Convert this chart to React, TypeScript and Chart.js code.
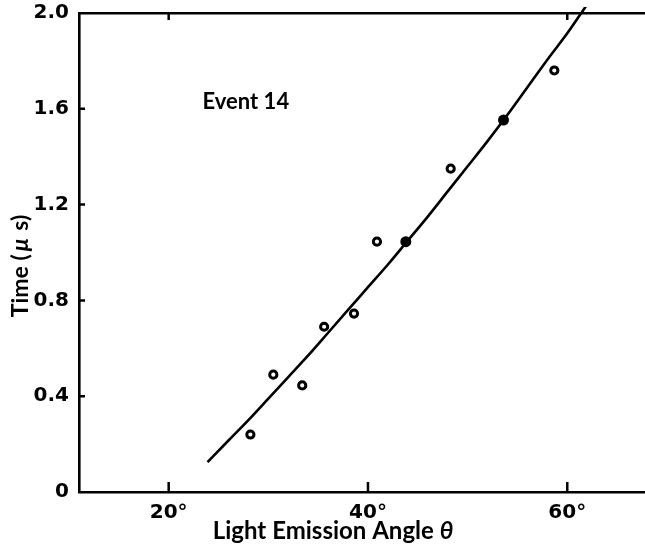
import React, { useEffect, useRef } from "react";
import { Chart, registerables } from "chart.js";

Chart.register(...registerables);

// ---- data ----
const OPEN_ANGLE = [28.2, 30.5, 33.4, 35.6, 38.6, 40.9, 48.3, 58.7];
const OPEN_TIME = [0.24, 0.49, 0.445, 0.69, 0.745, 1.045, 1.35, 1.76];
const FILLED_ANGLE = [43.8, 53.6];
const FILLED_TIME = [1.045, 1.553];
const CURVE_ANGLE = [23.9, 26, 28, 30, 32, 34, 36, 38, 40, 42, 44, 46, 48, 50, 52, 54, 56, 58, 60, 61.9];
const CURVE_TIME = [0.125, 0.215, 0.3, 0.39, 0.48, 0.57, 0.665, 0.76, 0.855, 0.95, 1.05, 1.15, 1.255, 1.36, 1.465, 1.575, 1.69, 1.805, 1.915, 2.03];
const X_TICKS = [20, 40, 60];
const X_TOP_TICKS = [20, 60];
const Y_TICKS = [0, 0.4, 0.8, 1.2, 1.6, 2.0];
const Y_TICK_LABELS = ["0", "0.4", "0.8", "1.2", "1.6", "2.0"];
const X_TITLE = "Light Emission Angle ";
const X_TITLE_SYMBOL = "θ";
const Y_TITLE_PARTS = ["Time (", "μ", " s)"];
const ANNOTATION = "Event 14";
const ANNOTATION_AT = { x: 23.4, y: 1.6 };

const INK = "#000000";
const FONT = "Lato";
const DIGIT_FONT = "DejaVu Sans";

function toPoints(xs: number[], ys: number[]) {
  return xs.map((x, i) => ({ x, y: ys[i] }));
}

const zeroPad = (s: any) => {
  s.paddingTop = 0;
  s.paddingBottom = 0;
  s.paddingLeft = 0;
  s.paddingRight = 0;
};

const decorPlugin = {
  id: "decor",
  afterDraw(chart: any) {
    const { ctx, chartArea, scales } = chart;
    const x = scales.x;
    const y = scales.y;
    ctx.save();
    ctx.strokeStyle = INK;
    ctx.lineWidth = 2.5;
    ctx.lineCap = "butt";
    ctx.beginPath();
    X_TICKS.forEach((v) => {
      const px = x.getPixelForValue(v);
      ctx.moveTo(px, chartArea.bottom);
      ctx.lineTo(px, chartArea.bottom - 10);
    });
    X_TOP_TICKS.forEach((v) => {
      const px = x.getPixelForValue(v);
      ctx.moveTo(px, chartArea.top);
      ctx.lineTo(px, chartArea.top + 7);
    });
    Y_TICKS.slice(1, -1).forEach((v) => {
      const py = y.getPixelForValue(v);
      ctx.moveTo(chartArea.left, py);
      ctx.lineTo(chartArea.left + 6, py);
    });
    ctx.stroke();

    ctx.fillStyle = INK;
    ctx.textBaseline = "alphabetic";
    ctx.textAlign = "left";

    // annotation
    ctx.font = `bold 22px ${FONT}`;
    ctx.fillText(ANNOTATION, x.getPixelForValue(ANNOTATION_AT.x), y.getPixelForValue(ANNOTATION_AT.y));

    // x title
    ctx.font = `bold 24px ${FONT}`;
    const w1 = ctx.measureText(X_TITLE).width;
    ctx.font = `italic bold 24px ${FONT}`;
    const w2 = ctx.measureText(X_TITLE_SYMBOL).width;
    const sx = 333 - (w1 + w2) / 2;
    ctx.font = `bold 24px ${FONT}`;
    ctx.fillText(X_TITLE, sx, 539);
    ctx.font = `italic bold 24px ${FONT}`;
    ctx.fillText(X_TITLE_SYMBOL, sx + w1, 539);

    // y title (rotated)
    ctx.save();
    ctx.translate(28, 266);
    ctx.rotate(-Math.PI / 2);
    const fonts = [`bold 23px ${FONT}`, `italic bold 23px ${FONT}`, `bold 23px ${FONT}`];
    const gaps = [3, 2, 0];
    const widths = Y_TITLE_PARTS.map((t, i) => {
      ctx.font = fonts[i];
      return ctx.measureText(t).width;
    });
    const total = widths.reduce((a, b) => a + b, 0) + gaps.reduce((a, b) => a + b, 0);
    let tx = -total / 2;
    Y_TITLE_PARTS.forEach((t, i) => {
      ctx.font = fonts[i];
      ctx.fillText(t, tx, 0);
      tx += widths[i] + gaps[i];
    });
    ctx.restore();

    ctx.restore();
  },
};

export default function App() {
  const ref = useRef<HTMLCanvasElement | null>(null);

  useEffect(() => {
    let chart: Chart | null = null;
    let cancelled = false;
    const build = () => {
      if (cancelled || !ref.current) return;
      chart = new Chart(ref.current, {
        type: "scatter",
        data: {
          datasets: [
            {
              type: "line",
              data: toPoints(CURVE_ANGLE, CURVE_TIME),
              borderColor: INK,
              borderWidth: 2.6,
              pointRadius: 0,
              tension: 0.4,
              cubicInterpolationMode: "monotone",
              fill: false,
              clip: { left: 0, top: 6, right: 0, bottom: 0 },
              order: 3,
            } as any,
            {
              data: toPoints(OPEN_ANGLE, OPEN_TIME),
              pointRadius: 3.6,
              pointBorderWidth: 3,
              pointBackgroundColor: "#ffffff",
              pointBorderColor: INK,
              order: 1,
            } as any,
            {
              data: toPoints(FILLED_ANGLE, FILLED_TIME),
              pointRadius: 5.5,
              pointBorderWidth: 0,
              pointBackgroundColor: INK,
              pointBorderColor: INK,
              order: 2,
            } as any,
          ],
        },
        options: {
          responsive: false,
          animation: false,
          devicePixelRatio: 1,
          layout: { padding: 0, autoPadding: false },
          plugins: {
            legend: { display: false },
            tooltip: { enabled: false },
            title: { display: false },
          },
          scales: {
            x: {
              type: "linear",
              position: "bottom",
              min: 11,
              max: 67.8,
              grid: { display: false },
              border: { display: true, color: INK, width: 2.6 },
              afterBuildTicks: (s: any) => {
                s.ticks = X_TICKS.map((v) => ({ value: v }));
              },
              afterFit: (s: any) => {
                s.height = 56;
                zeroPad(s);
              },
              ticks: {
                color: INK,
                padding: 1,
                maxRotation: 0,
                font: { family: DIGIT_FONT, size: 20, weight: "bold" },
                callback: (v: any) => `${v}°`,
              },
            },
            x2: {
              type: "linear",
              position: "top",
              min: 11,
              max: 67.8,
              grid: { display: false },
              border: { display: true, color: INK, width: 2.6 },
              ticks: { display: false },
              afterFit: (s: any) => {
                s.height = 13;
                zeroPad(s);
              },
            },
            y: {
              type: "linear",
              min: 0,
              max: 2.0,
              grid: { display: false },
              border: { display: true, color: INK, width: 2.6 },
              afterBuildTicks: (s: any) => {
                s.ticks = Y_TICKS.map((v) => ({ value: v }));
              },
              afterFit: (s: any) => {
                s.width = 79;
                zeroPad(s);
              },
              ticks: {
                color: INK,
                padding: 2,
                font: { family: DIGIT_FONT, size: 20, weight: "bold" },
                callback: (v: any) => {
                  const i = Y_TICKS.findIndex((t) => Math.abs(t - Number(v)) < 1e-6);
                  return i >= 0 ? Y_TICK_LABELS[i] : "";
                },
              },
            },
          },
        },
        plugins: [decorPlugin],
      } as any);
    };
    const fontsReady = (document as any).fonts
      ? Promise.all([
          (document as any).fonts.load(`bold 22px ${FONT}`),
          (document as any).fonts.load(`italic bold 24px ${FONT}`),
          (document as any).fonts.load(`bold 20px "${DIGIT_FONT}"`),
        ]).catch(() => null)
      : Promise.resolve(null);
    fontsReady.then(build);
    return () => {
      cancelled = true;
      if (chart) chart.destroy();
    };
  }, []);

  return (
    <div style={{ position: "absolute", left: 0, top: 0, width: 645, height: 548, background: "#ffffff" }}>
      <canvas ref={ref} width={645} height={548} style={{ width: 645, height: 548, display: "block" }} />
    </div>
  );
}
